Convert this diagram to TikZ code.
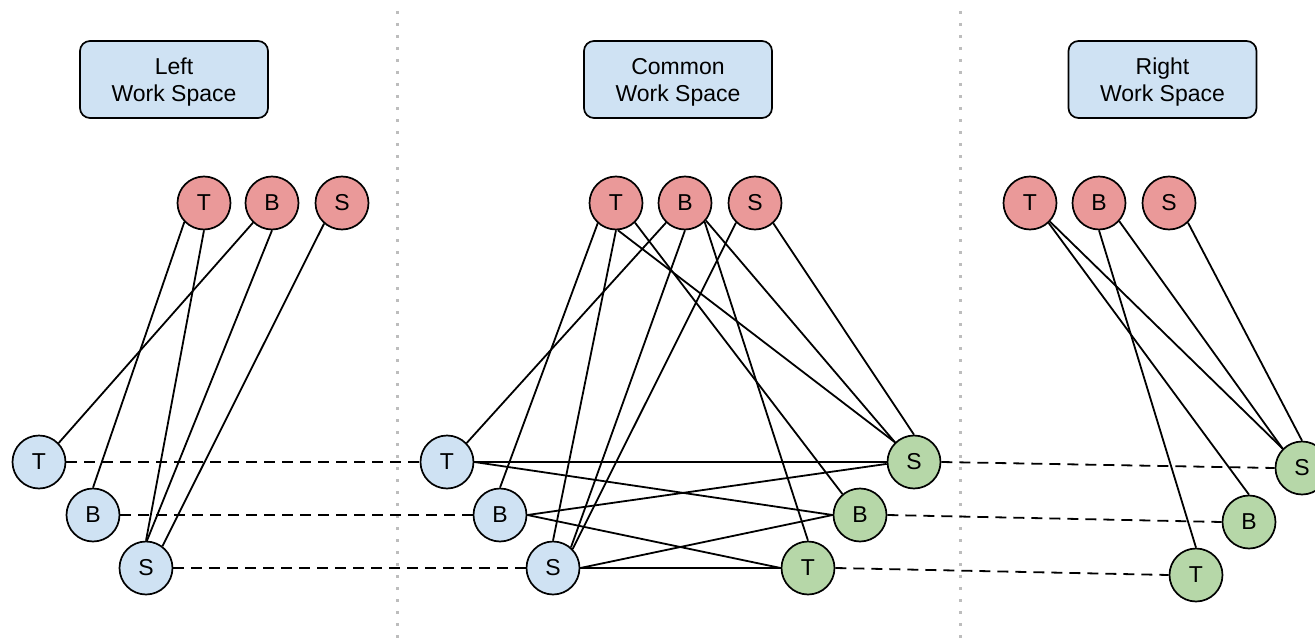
\documentclass[tikz,border=0pt]{standalone}
\usepackage{fontspec}
\setmainfont{Liberation Sans}
\definecolor{redfill}{HTML}{EA9999}
\definecolor{bluefill}{HTML}{CFE2F3}
\definecolor{greenfill}{HTML}{B6D7A8}
\definecolor{dotgray}{HTML}{BDBDBD}
\begin{document}
\begin{tikzpicture}[x=1pt,y=-1pt,
  ball/.style={circle,draw=black,line width=1.7pt,minimum size=53pt,inner sep=0pt,font=\fontsize{23}{26}\selectfont},
  redball/.style={ball,fill=redfill},
  blueball/.style={ball,fill=bluefill},
  greenball/.style={ball,fill=greenfill},
  header/.style={draw=black,line width=1.7pt,rounded corners=10pt,fill=bluefill,minimum width=188pt,minimum height=77pt,align=center,text depth=-3.2pt,font=\fontsize{23}{27}\selectfont},
  link/.style={line width=1.8pt},
  dashlink/.style={line width=1.8pt,dash pattern=on 11pt off 7pt},
  divider/.style={dotgray,line width=3pt,dash pattern=on 3pt off 9pt}
]
\useasboundingbox (0,0) rectangle (1315,642);
\clip (0,0) rectangle (1315,642);
% dividers
\coordinate (d1t) at (397,11);
\coordinate (d1b) at (397,642);
\coordinate (d2t) at (960,11);
\coordinate (d2b) at (960,642);
\draw[divider] (d1t) -- (d1b);
\draw[divider] (d2t) -- (d2b);
% headers
\node[header] (hL) at (174,79.5) {Left\\Work Space};
\node[header] (hC) at (678,79.5) {Common\\Work Space};
\node[header] (hR) at (1162.5,79.5) {Right\\Work Space};
% left section
\node[redball] (lrT) at (204,203) {T};
\node[redball] (lrB) at (272,203) {B};
\node[redball] (lrS) at (342,203) {S};
\node[blueball] (lT) at (39,462) {T};
\node[blueball] (lB) at (93,515) {B};
\node[blueball] (lS) at (146,568) {S};
% common section
\node[redball] (crT) at (616,203) {T};
\node[redball] (crB) at (685,203) {B};
\node[redball] (crS) at (755,203) {S};
\node[blueball] (bT) at (447,462) {T};
\node[blueball] (bB) at (500,515) {B};
\node[blueball] (bS) at (553,568) {S};
\node[greenball] (gS) at (914,462) {S};
\node[greenball] (gB) at (860,515) {B};
\node[greenball] (gT) at (808,568) {T};
% right section
\node[redball] (rrT) at (1030,203) {T};
\node[redball] (rrB) at (1099,203) {B};
\node[redball] (rrS) at (1169,203) {S};
\node[greenball] (rgS) at (1302,468) {S};
\node[greenball] (rgB) at (1249,522) {B};
\node[greenball] (rgT) at (1196,575) {T};
% left links
\draw[link] (lrT.-136) -- (lB.north);
\draw[link] (lrT.south) -- (lS.north);
\draw[link] (lrB.-134) -- (lT.44);
\draw[link] (lrB.south) -- (lS.88);
\draw[link] (lrS.-131) -- (lS.53);
% common links
\draw[link] (crT.-132) -- (bB.north);
\draw[link] (crT.south) -- (bS.north);
\draw[link] (crT.-86) -- (gS.134);
\draw[link] (crT.-46) -- (gB.130);
\draw[link] (crB.-134) -- (bT.44);
\draw[link] (crB.-90) -- (bS.49);
\draw[link] (crB.-44) -- (gT.north);
\draw[link] (crB.-40) -- (gS.134);
\draw[link] (crS.-134) -- (bS.44);
\draw[link] (crS.-48) -- (gS.north);
\draw[link] (bT.east) -- (gS.west);
\draw[link] (bT.east) -- (gB.west);
\draw[link] (bB.east) -- (gS.184);
\draw[link] (bB.east) -- (gT.west);
\draw[link] (bS.east) -- (gT.west);
\draw[link] (bS.east) -- (gB.west);
% right links
\draw[link] (rrT.-43) -- (rgS.135);
\draw[link] (rrT.-47) -- (rgB.north);
\draw[link] (rrB.south) -- (rgT.north);
\draw[link] (rrB.-42) -- (rgS.135);
\draw[link] (rrS.-46) -- (rgS.north);
% dashed correspondences
\draw[dashlink] (lT.east) -- (bT.west);
\draw[dashlink] (lB.east) -- (bB.west);
\draw[dashlink] (lS.east) -- (bS.west);
\draw[dashlink] (gS.east) -- (rgS.west);
\draw[dashlink] (gB.east) -- (rgB.west);
\draw[dashlink] (gT.east) -- (rgT.west);
\end{tikzpicture}
\end{document}
